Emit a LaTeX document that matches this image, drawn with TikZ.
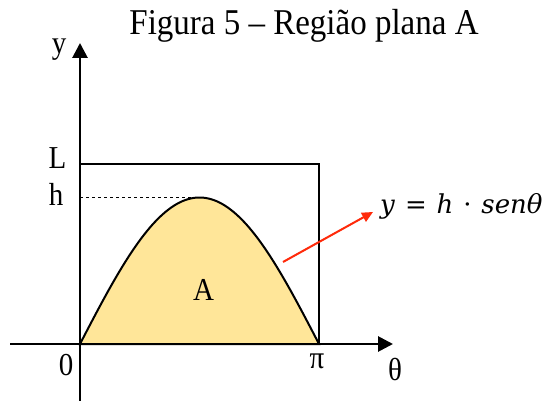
\documentclass[tikz,border=0pt]{standalone}
\usepackage{fontspec}
\usepackage{graphicx}
\setmainfont{Liberation Serif}
\newfontfamily\eqfont{DejaVu Serif}
\usetikzlibrary{arrows.meta}
\definecolor{areafill}{HTML}{FFE699}
\definecolor{arrred}{HTML}{FF2A0A}
\newcommand{\tall}[1]{\scalebox{1}[1.1]{#1}}
\tikzset{
  axis/.style={line width=2.8pt,-{Triangle[length=15pt,width=15pt]}},
  boxline/.style={line width=2pt},
  lbl/.style={font=\fontsize{29}{31}\selectfont, inner sep=0pt, anchor=base},
  curve/.style={line width=2pt, fill=areafill},
}
\begin{document}
\begin{tikzpicture}[x=1pt,y=-1pt]
\useasboundingbox (0,0) rectangle (546,401);
\node[lbl, font=\fontsize{33}{35}\selectfont] (title) at (304,35) {\tall{Figura 5 – Região plana A}};
% area
\coordinate (O) at (80,344);
\coordinate (P) at (319,344);
\coordinate (peak) at (197,197.5);
\filldraw[curve] (O) -- plot[domain=0:180, samples=90, smooth] ({80+\x/180*239},{344-146.5*sin(\x)}) -- cycle;
% box
\draw[boxline] (80,164) -- (319,164) -- (319,344);
% dashed h
\coordinate (hs) at (80,197.5);
\draw[dashed, line width=0.9pt] (hs) -- (peak);
% axes
\coordinate (xs) at (10,344);
\coordinate (xe) at (393,344);
\coordinate (ys) at (80,401);
\coordinate (ye) at (80,43);
\draw[axis] (xs) -- (xe);
\draw[axis] (ys) -- (ye);
% labels
\node[lbl] (ylab) at (59,54) {\tall{y}};
\node[lbl] (Llab) at (57.5,168) {\tall{L}};
\node[lbl] (hlab) at (56,205) {\tall{h}};
\node[lbl] (zero) at (66,375) {\tall{0}};
\node[lbl] (pi) at (317,368) {\tall{π}};
\node[lbl] (theta) at (395,380) {\tall{θ}};
\node[lbl] (A) at (203.5,300) {\tall{A}};
% equation
\node[inner sep=0pt, anchor=base west, font=\eqfont\fontsize{26}{28}\selectfont] (eq) at (380,213) {\textit{y}\hspace{0.38em}=\hspace{0.38em}\textit{h}\hspace{0.38em}·\hspace{0.38em}\textit{senθ}};
\coordinate (arrs) at (283,262);
\coordinate (arre) at (373,212);
\draw[arrred, line width=2pt, -{Triangle[length=11pt,width=10pt]}] (arrs) -- (arre);
\end{tikzpicture}
\end{document}
